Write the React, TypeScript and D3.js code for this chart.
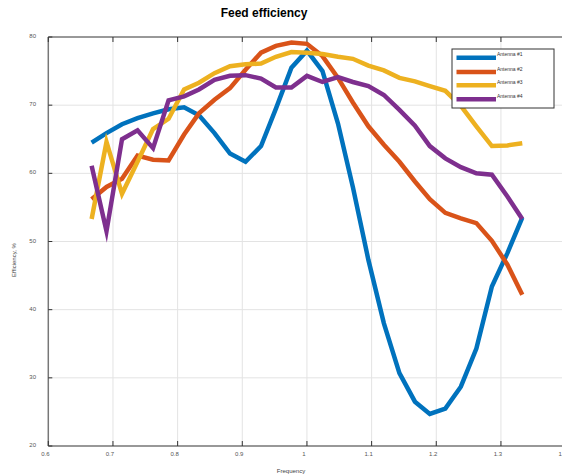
import React from "react";
import * as d3 from "d3";

// frequency points (n/42, n = 28..56)
const freq = [
  0.667, 0.69, 0.714, 0.738, 0.762, 0.786, 0.81, 0.833, 0.857, 0.881,
  0.905, 0.929, 0.952, 0.976, 1.0, 1.024, 1.048, 1.071, 1.095, 1.119,
  1.143, 1.167, 1.19, 1.214, 1.238, 1.262, 1.286, 1.31, 1.333,
];

const antenna1 = [
  64.5, 65.9, 67.2, 68.1, 68.8, 69.4, 69.7, 68.5, 65.9, 62.9,
  61.7, 64.0, 69.5, 75.5, 78.0, 75.0, 67.3, 58.0, 47.3, 38.0,
  30.7, 26.5, 24.7, 25.5, 28.7, 34.3, 43.4, 48.3, 53.5,
];
const antenna2 = [
  56.2, 58.0, 59.2, 62.6, 62.0, 61.9, 65.7, 68.8, 70.8, 72.5,
  75.2, 77.7, 78.7, 79.2, 79.0, 77.2, 74.0, 70.4, 66.9, 64.2,
  61.7, 58.8, 56.2, 54.2, 53.4, 52.7, 50.1, 46.6, 42.2,
];
const antenna3 = [
  53.3, 64.6, 57.0, 61.7, 66.5, 68.0, 72.3, 73.3, 74.7, 75.7,
  76.0, 76.1, 77.1, 77.8, 77.7, 77.5, 77.1, 76.8, 75.8, 75.1,
  74.0, 73.5, 72.8, 72.1, 69.9, 66.9, 64.0, 64.1, 64.4,
];
const antenna4 = [
  61.1, 51.5, 65.0, 66.3, 63.7, 70.7, 71.3, 72.3, 73.7, 74.3,
  74.4, 73.9, 72.6, 72.6, 74.3, 73.4, 74.1, 73.4, 72.8, 71.5,
  69.3, 67.0, 64.0, 62.2, 60.9, 60.0, 59.8, 56.6, 53.3,
];

const seriesNames = ["Antenna #1", "Antenna #2", "Antenna #3", "Antenna #4"];
const seriesValues = [antenna1, antenna2, antenna3, antenna4];
const colors = ["#0072BD", "#D95319", "#EDB120", "#7E2F8E"];

const xTicks = [0.6, 0.7, 0.8, 0.9, 1.0, 1.1, 1.2, 1.3, 1.4];
const yTicks = [20, 30, 40, 50, 60, 70, 80];

const W = 562;
const H = 475;
const font = "'Liberation Sans', Arial, Helvetica, sans-serif";

export default function App() {
  const x = d3.scaleLinear().domain([0.6, 1.4]).range([48.3, 565.6]);
  const y = d3.scaleLinear().domain([20, 80]).range([446, 37]);

  const line = d3
    .line<number>()
    .x((_, i) => x(freq[i]))
    .y((d) => y(d));

  const [x0, x1] = x.range();
  const [y0, y1] = y.range();

  // legend box
  const lx = 452, ly = 49, lw = 102, lh = 59;
  const legendRows = [57.7, 72, 85.3, 99.3];

  return (
    <svg
      width={W}
      height={H}
      style={{ position: "absolute", left: 0, top: 0, background: "#fff" }}
      fontFamily={font}
    >
      <rect width={W} height={H} fill="#fff" />

      {/* grid */}
      {xTicks.slice(1, -1).map((t) => (
        <line key={"gx" + t} x1={x(t)} x2={x(t)} y1={y1} y2={y0} stroke="#e3e3e3" strokeWidth={1} />
      ))}
      {yTicks.slice(1, -1).map((t) => (
        <line key={"gy" + t} x1={x0} x2={x1} y1={y(t)} y2={y(t)} stroke="#e3e3e3" strokeWidth={1} />
      ))}

      {/* axes box */}
      <line x1={x0} x2={x1} y1={y1} y2={y1} stroke="#333" strokeWidth={1} />
      <line x1={x0} x2={x1} y1={y0} y2={y0} stroke="#333" strokeWidth={1.2} />
      <line x1={x0} x2={x0} y1={y1} y2={y0} stroke="#777" strokeWidth={1.5} />

      {/* ticks */}
      {xTicks.map((t) => (
        <g key={"tx" + t}>
          <line x1={x(t)} x2={x(t)} y1={y0} y2={y0 - 5} stroke="#333" />
          <line x1={x(t)} x2={x(t)} y1={y1} y2={y1 + 5} stroke="#333" />
          <text x={x(t) - 3} y={y0 + 10} fontSize={6} fill="#555" textAnchor="middle">
            {d3.format("")(t)}
          </text>
        </g>
      ))}
      {yTicks.map((t) => (
        <g key={"ty" + t}>
          <line x1={x0} x2={x0 + 4} y1={y(t)} y2={y(t)} stroke="#333" />
          <text x={36} y={y(t) - 0.5} fontSize={6} fill="#555" textAnchor="end" dominantBaseline="middle">
            {t}
          </text>
        </g>
      ))}

      {/* series */}
      {seriesValues.map((vals, i) => (
        <path
          key={seriesNames[i]}
          d={line(vals) ?? ""}
          fill="none"
          stroke={colors[i]}
          strokeWidth={4.5}
          strokeLinejoin="miter"
          strokeMiterlimit={10}
        />
      ))}

      {/* titles */}
      <text x={264} y={17} fontSize={12} fontWeight="bold" textAnchor="middle" fill="#000">
        Feed efficiency
      </text>
      <text x={291} y={473} fontSize={6} textAnchor="middle" fill="#444">
        Frequency
      </text>
      <text
        transform="translate(16,260) rotate(-90)"
        fontSize={6}
        textAnchor="middle"
        fill="#444"
      >
        Efficiency, %
      </text>

      {/* legend */}
      <rect x={lx} y={ly} width={lw} height={lh} fill="#fff" stroke="#333" strokeWidth={1} />
      {seriesNames.map((name, i) => (
        <g key={"lg" + name}>
          <line
            x1={456.5}
            x2={496}
            y1={legendRows[i]}
            y2={legendRows[i]}
            stroke={colors[i]}
            strokeWidth={4.5}
          />
          <text x={497} y={legendRows[i] - 2.7} fontSize={5} fill="#333" dominantBaseline="middle">
            {name}
          </text>
        </g>
      ))}
    </svg>
  );
}
